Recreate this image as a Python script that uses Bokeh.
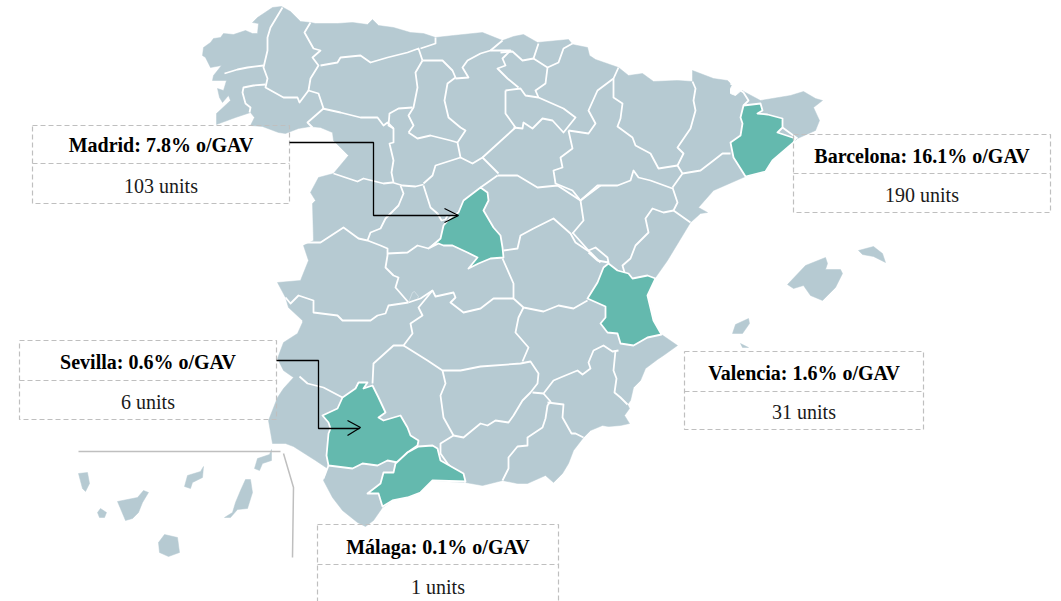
from bokeh.plotting import figure
from bokeh.embed import file_html
from bokeh.resources import INLINE
from bokeh.core.properties import value
from bokeh.models import Range1d

# Map outline of mainland Spain (x, y in picture pixels)
mainland = [(203,47),(210,42),(213,38),(220,37),(223,33),(233,34),(245,30),(252,33),(257,33),(258,23),(252,22),(257,17),(263,13),(272,7),(281,6),(290,11),(300,21),(310,22),(315,23),(337,23),(352,22),(367,24),(372,19),(378,25),(393,27),(410,32),(423,33),(435,37),(453,35),(482,32),(502,40),(513,36),(523,34),(537,42),(568,39),(572,44),(587,47),(589,55),(595,59),(618,67),(628,75),(642,73),(653,81),(677,80),(692,81),(692,70),(713,78),(727,80),(730,83),(745,92),(760,100),(790,95),(803,91),(815,98),(822,100),(813,107),(819,120),(815,130),(797,138),(793,142),(772,160),(765,171),(745,176),(713,190),(698,207),(707,212),(700,213),(690,222),(667,260),(655,277),(647,295),(653,320),(661,334),(677,345),(663,355),(657,359),(645,368),(640,380),(633,387),(630,400),(627,404),(629,408),(624,415),(629,423),(620,425),(608,426),(602,425),(590,430),(583,437),(573,450),(568,463),(562,473),(553,482),(545,475),(527,483),(517,483),(502,480),(482,485),(465,482),(432,480),(420,492),(407,497),(392,500),(382,507),(373,520),(365,526),(357,522),(342,510),(332,497),(323,480),(327,468),(315,460),(293,446),(285,443),(272,443),(268,420),(277,397),(283,388),(293,377),(283,370),(277,358),(283,342),(297,333),(302,322),(302,320),(288,307),(285,297),(277,282),(300,280),(308,260),(303,245),(313,240),(312,203),(315,200),(310,192),(318,177),(333,173),(348,155),(333,140),(332,132),(320,127),(310,126),(298,128),(285,133),(278,132),(262,126),(250,125),(254,117),(250,112),(235,117),(216,124),(216,113),(230,100),(228,95),(222,102),(219,97),(217,88),(223,90),(226,80),(212,80),(213,75),(221,65),(210,67),(205,57),(202,55)]

# Province borders
borders = [
 [(282,7),(270,27),(267,37),(267,50),(263,67),(267,78),(265,87),(283,97),(297,97),(299,102),(308,90)],
 [(224,73),(237,69),(247,67),(263,65)],
 [(265,84),(253,85),(243,87),(242,92),(245,103),(250,107),(249,112)],
 [(310,22),(304,32),(313,48),(320,50),(312,57),(318,65),(310,78),(308,90),(318,93),(323,108),(307,122),(312,127)],
 [(322,108),(340,112),(360,117),(377,117),(383,125),(387,122),(393,128)],
 [(320,65),(337,62),(340,57),(360,55),(370,62),(387,57),(407,52),(418,48),(422,60)],
 [(435,37),(435,43),(420,48)],
 [(422,60),(415,72),(417,87),(413,107),(408,115),(413,125),(408,132)],
 [(412,107),(398,108),(389,113),(388,125),(393,128),(393,142),(389,143),(393,160),(391,172),(393,182)],
 [(408,132),(417,138),(430,135),(450,140),(457,142)],
 [(422,60),(442,60),(452,70),(455,77),(447,83),(444,100),(448,117),(460,127),(465,130),(457,142),(460,157),(435,165),(432,175),(423,183)],
 [(455,78),(468,77),(462,67),(467,60),(480,53),(490,50),(510,50),(502,58),(505,65),(497,68),(507,78),(518,87)],
 [(502,40),(490,50)],
 [(460,157),(472,163),(482,157),(498,173)],
 [(482,157),(493,147),(515,127),(505,113),(505,90)],
 [(333,173),(357,181),(363,178),(383,183),(392,182),(402,185),(415,186),(423,184)],
 [(400,185),(403,193),(398,205),(385,218),(380,228),(370,232),(367,240),(380,245),(387,248),(387,255),(385,267),(393,275),(398,277),(395,287),(408,302)],
 [(305,242),(320,242),(343,227),(358,238),(367,240)],
 [(423,185),(430,207),(437,213)],
 [(437,213),(441,220),(445,219),(447,215)],
 [(480,187),(497,175)],
 [(387,253),(407,252),(417,245),(428,248),(438,240)],
 [(408,302),(388,305),(385,313),(377,315),(370,320),(350,320),(342,320),(337,315),(313,312),(313,300),(298,295),(290,303),(285,297)],
 [(408,302),(420,298),(432,290),(435,296),(453,292),(455,297),(450,302),(463,312),(480,308),(493,298),(513,298)],
 [(502,258),(513,283),(513,298),(523,307),(543,311),(558,305),(573,308),(587,300)],
 [(432,290),(418,307),(422,315),(410,323),(412,333),(403,345),(393,345),(373,363),(372,383)],
 [(403,345),(427,360),(442,370),(460,370),(480,366),(520,363),(530,361),(538,373),(537,383),(530,392),(522,400),(513,415),(508,422),(495,420),(487,425),(480,423),(463,437),(453,435)],
 [(523,307),(518,317),(515,332),(528,347),(522,361)],
 [(503,250),(517,248),(520,235),(533,228),(553,218),(570,233),(575,242),(590,252),(600,262)],
 [(572,233),(583,220),(580,200),(600,185)],
 [(497,175),(517,175),(537,187),(557,185),(580,200)],
 [(505,90),(520,88),(525,95),(538,97),(563,108),(575,117),(567,127),(563,132),(552,120),(542,118),(532,128),(523,122),(522,128),(513,127)],
 [(568,130),(572,148),(560,157),(562,167),(553,170),(555,183),(572,190),(580,200)],
 [(568,130),(588,133),(595,123),(588,110),(597,90),(613,78),(618,67)],
 [(538,97),(535,90),(545,83),(547,67),(533,58),(522,60),(512,51),(500,52)],
 [(547,67),(558,62),(563,48),(572,43)],
 [(538,43),(533,58)],
 [(613,78),(613,97),(622,103),(620,118),(617,126),(632,137),(635,145),(650,153),(658,168),(677,165)],
 [(692,81),(695,88),(693,100),(695,110),(690,128),(677,147),(683,153),(677,165),(682,173),(672,187)],
 [(682,173),(700,170),(713,160),(722,153),(730,153)],
 [(672,187),(677,202),(673,210),(690,222)],
 [(580,200),(588,193),(597,185),(617,185),(630,180),(633,170),(638,177),(650,180),(672,188)],
 [(673,210),(663,212),(652,208),(645,218),(648,232),(635,245),(630,258),(622,265),(624,272)],
 [(572,232),(588,250),(595,247),(607,257),(608,262),(597,260),(588,252)],
 [(532,392),(543,393),(553,380),(560,377),(577,370),(582,374),(590,368),(588,362),(593,350),(603,345),(612,351),(618,350)],
 [(615,350),(613,370),(616,378),(614,392),(620,397),(627,404)],
 [(442,370),(445,383),(440,395),(443,417),(453,435),(440,443),(440,453),(447,463),(465,482)],
 [(543,393),(550,401),(547,405),(545,418),(542,427),(527,437),(527,445),(517,446),(508,457),(508,468),(502,480)],
 [(547,402),(563,404),(562,417),(571,433),(575,433),(583,437)],
 [(299,376),(307,383),(323,387),(342,397)],
 [(328,465),(323,478)],
 [(743,105),(748,100),(743,92),(730,83)],
 [(797,138),(782,127)],
]

# Faint inner loop near the Toledo border
faint_loop = [(408,302),(412,292),(414,291),(418,296),(417,298)]

# Highlighted provinces
madrid = [(480,187),(487,192),(488,200),(483,210),(493,227),(500,235),(502,247),(503,257),(490,258),(478,263),(468,268),(477,257),(467,252),(452,245),(443,245),(438,243),(430,247),(440,238),(443,225),(450,217),(458,212),(463,200)]
barcelona = [(743,105),(760,103),(762,110),(757,113),(767,114),(782,118),(782,127),(777,132),(795,138),(793,142),(772,160),(765,171),(745,176),(740,168),(733,157),(730,142),(740,135),(742,123),(740,117)]
valencia = [(608,263),(617,270),(628,273),(632,278),(647,275),(655,278),(647,295),(653,320),(661,334),(647,337),(633,345),(620,343),(617,333),(607,332),(600,323),(605,317),(605,306),(587,298),(597,282),(603,267)]
sevilla = [(342,397),(355,388),(358,382),(367,382),(363,388),(372,385),(378,397),(385,412),(378,417),(383,420),(400,415),(407,427),(410,435),(418,440),(417,445),(407,452),(397,462),(387,460),(377,465),(362,463),(352,468),(328,465),(326,455),(328,433),(330,428),(328,422),(322,415),(337,408)]
malaga = [(418,446),(432,445),(437,448),(440,460),(463,473),(465,481),(432,480),(420,492),(407,497),(392,500),(382,506),(378,493),(367,493),(380,483),(383,472),(393,472),(395,463),(407,452)]
andorra = [(730,88),(733,83),(742,83),(743,88),(735,95),(730,93)]

# Islands
islands = [
 [(825,257),(827,263),(825,269),(840,269),(842,273),(835,287),(822,300),(810,295),(803,285),(793,288),(787,284),(805,265)],
 [(858,250),(873,246),(882,253),(885,262),(873,256),(862,254)],
 [(748,318),(749,323),(742,333),(732,333),(735,324)],
 [(740,343),(748,347),(742,347)],
 [(78,473),(87,472),(89,483),(85,491),(82,488)],
 [(97,512),(100,508),(106,512),(104,517),(99,517)],
 [(117,501),(137,497),(143,490),(148,492),(142,502),(138,512),(132,518),(125,520)],
 [(158,542),(164,534),(177,537),(179,552),(168,556),(159,552)],
 [(187,475),(200,471),(203,466),(202,477),(192,482),(190,488),(184,486)],
 [(245,479),(250,479),(252,492),(247,508),(237,509),(230,517),(224,517),(232,512),(235,502),(240,490)],
 [(257,458),(269,454),(271,449),(271,460),(262,463),(259,470),(254,468)],
]

inset_lines = [[(78,451),(280,451)], [(283,453),(293,487),(292,557)]]

# Callouts
labels = ["Madrid: 7.8% o/GAV", "Barcelona: 16.1% o/GAV", "Valencia: 1.6% o/GAV", "Sevilla: 0.6% o/GAV", "Málaga: 0.1% o/GAV"]
units = ["103 units", "190 units", "31 units", "6 units", "1 units"]
box_left = [32, 793, 684, 19, 317]
box_right = [289, 1050, 923, 276, 558]
box_top = [125, 134, 351, 340, 524]
box_mid = [163, 173, 391, 380, 564]
box_bottom = [203, 212, 429, 419, 610]
label_y = [144, 155, 372, 361, 546]
units_y = [185, 194, 411, 401, 586]

connector_madrid = [(289,142),(373,142),(373,215),(457,215)]
connector_sevilla = [(276,360),(318,360),(318,428),(359,428)]
heads = [[(444,208),(458,215),(444,222)], [(347,420),(360,427),(347,435)]]

MAP = "#b6cad2"
GREEN = "#64b9ae"
GREY = "#bfbfbf"

def xs(pts): return [a for a, _ in pts]
def ys(pts): return [b for _, b in pts]

p = figure(width=1061, height=601, output_backend="svg", toolbar_location=None,
           x_range=Range1d(0, 1061), y_range=Range1d(601, 0), min_border=0,
           outline_line_color=None, background_fill_color="white")
p.axis.visible = False
p.grid.visible = False

p.patch(xs(mainland), ys(mainland), fill_color=MAP, line_color=MAP, line_width=0.5)
p.patches([xs(i) for i in islands], [ys(i) for i in islands], fill_color=MAP, line_color=MAP, line_width=0.5)
p.multi_line([xs(b) for b in borders], [ys(b) for b in borders], line_color="white", line_width=1.8, line_join="round")
p.line(xs(faint_loop), ys(faint_loop), line_color="#dbe5e9", line_width=0.7)
p.patch(xs(andorra), ys(andorra), fill_color="white", line_color="white", line_width=1)
hi = [madrid, barcelona, valencia, sevilla, malaga]
p.patches([xs(i) for i in hi], [ys(i) for i in hi], fill_color=GREEN, line_color="white", line_width=1.8, line_join="round")
p.multi_line([xs(b) for b in inset_lines], [ys(b) for b in inset_lines], line_color=GREY, line_width=1.5)

# Boxes
for l, r, t, m, b in zip(box_left, box_right, box_top, box_mid, box_bottom):
    p.line([l, r, r, l, l], [t, t, b, b, t], line_color=GREY, line_width=1.2, line_dash="5 3")
    p.line([l, r], [m, m], line_color=GREY, line_width=1.2, line_dash="5 3")

# Connectors
conn = [connector_madrid, connector_sevilla]
p.multi_line([xs(c) for c in conn], [ys(c) for c in conn], line_color="black", line_width=1.3)
p.multi_line([xs(c) for c in heads], [ys(c) for c in heads], line_color="black", line_width=1.3)

cx = [(a + b) / 2 for a, b in zip(box_left, box_right)]
p.text(cx, label_y, text=labels, text_font=value("Liberation Serif"), text_font_style="bold",
       text_font_size="20px", text_align="center", text_baseline="middle", text_color="black")
p.text(cx, units_y, text=units, text_font=value("Liberation Serif"),
       text_font_size="20px", text_align="center", text_baseline="middle", text_color="#1a1a1a")

open("out.html", "w").write(file_html(p, INLINE))
